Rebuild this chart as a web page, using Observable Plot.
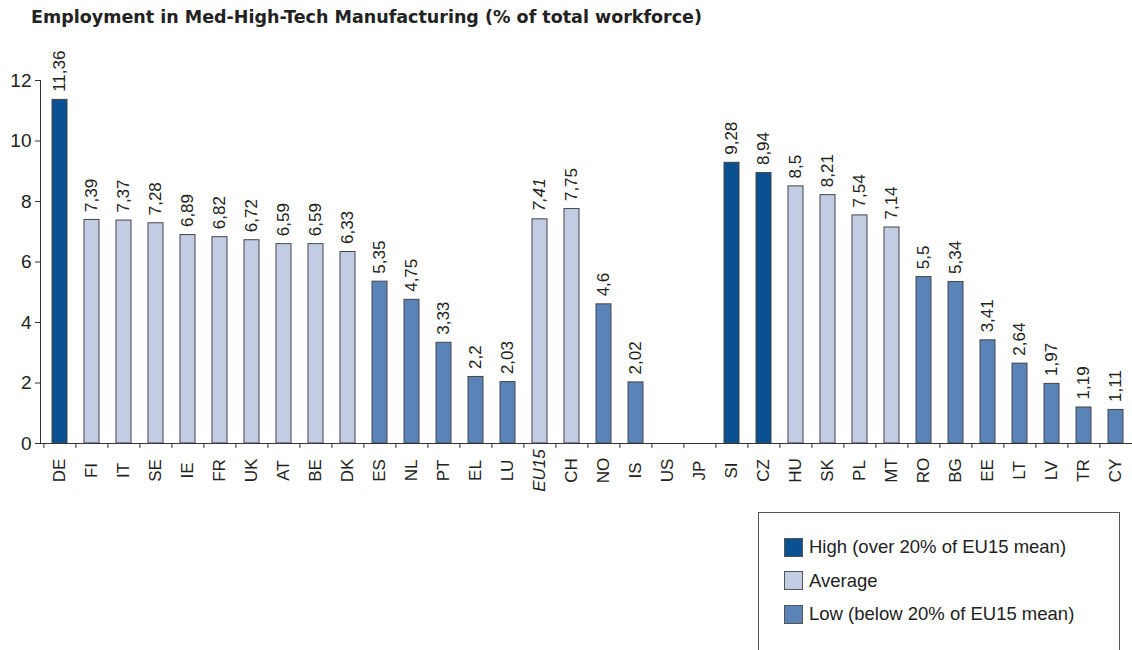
<!DOCTYPE html>
<html><head><meta charset="utf-8">
<script src="https://cdn.jsdelivr.net/npm/d3@7"></script>
<script src="https://cdn.jsdelivr.net/npm/@observablehq/plot@0.6"></script>
<style>
body{margin:0;background:#fff;}
#wrap{position:relative;width:1132px;height:650px;overflow:hidden;font-family:"Liberation Sans",Arial,sans-serif;}
#title{position:absolute;left:31px;top:7px;font-family:"DejaVu Sans",Verdana,sans-serif;font-weight:bold;font-size:17.5px;color:#222;white-space:nowrap;}
#chart{position:absolute;left:0;top:0;}
#legend{position:absolute;left:758px;top:512px;width:362px;height:170px;border:1px solid #555;box-sizing:border-box;background:#fff;}
.row{position:absolute;left:25px;display:flex;align-items:center;font-size:18.5px;color:#222;}
.sw{width:19px;height:19px;border:1px solid #555;margin-right:6px;box-sizing:border-box;}
</style></head>
<body><div id="wrap">
<div id="chart"></div>
<div id="title">Employment in Med-High-Tech Manufacturing (% of total workforce)</div>
<div id="legend"></div>
</div>
<script>
const countries = ["DE","FI","IT","SE","IE","FR","UK","AT","BE","DK","ES","NL","PT","EL","LU","EU15","CH","NO","IS","US","JP","SI","CZ","HU","SK","PL","MT","RO","BG","EE","LT","LV","TR","CY"];
const values = [11.36,7.39,7.37,7.28,6.89,6.82,6.72,6.59,6.59,6.33,5.35,4.75,3.33,2.2,2.03,7.41,7.75,4.6,2.02,null,null,9.28,8.94,8.5,8.21,7.54,7.14,5.5,5.34,3.41,2.64,1.97,1.19,1.11];
const levels = ["High","Average","Average","Average","Average","Average","Average","Average","Average","Average","Low","Low","Low","Low","Low","Average","Average","Low","Low",null,null,"High","High","Average","Average","Average","Average","Low","Low","Low","Low","Low","Low","Low"];
const levelNames = ["High","Average","Low"];
const levelColors = ["#0a5191","#c2cde4","#5a83b8"];
const legendLabels = ["High (over 20% of EU15 mean)","Average","Low (below 20% of EU15 mean)"];
const yTicks = [0,2,4,6,8,10,12];

const data = countries.map((c,i)=>({country:c, value:values[i], level:levels[i]}));
const bars = data.filter(d=>d.value!=null);
const fmt = v => String(v).replace(".",",");

const plot = Plot.plot({
  width: 1132, height: 650,
  marginTop: 80, marginBottom: 207, marginLeft: 40, marginRight: 0,
  style: {fontFamily: '"Liberation Sans", Arial, sans-serif', color: "#222"},
  x: {domain: countries, range: [40, 1135], paddingInner: 0.52, paddingOuter: 0.26, label: null},
  y: {domain: [0, 12], label: null},
  color: {domain: levelNames, range: levelColors},
  marks: [
    Plot.barY(bars, {x: "country", y: "value", fill: "level", stroke: "#444", strokeWidth: 1}),
    Plot.frame({anchor: "left", stroke: "#333"}),
    Plot.ruleY([0], {stroke: "#333"}),
    Plot.axisY({ticks: yTicks, tickSize: 5, tickPadding: 4, fontSize: 19, stroke: "#333", tickFormat: d=>d, label: null}),
    Plot.axisX({tickSize: 5, text: null, dx: -16.1, stroke: "#333", label: null}),
    Plot.text(countries.filter(c=>c!=="EU15"), {x: d=>d, y: ()=>0, text: d=>d, rotate: -90, textAnchor: "middle", lineAnchor: "middle", dy: 27, fontSize: 17, fill: "#222"}),
    Plot.text(countries.filter(c=>c==="EU15"), {x: d=>d, y: ()=>0, text: d=>d, rotate: -90, textAnchor: "middle", lineAnchor: "middle", dy: 27, fontSize: 17, fontStyle: "italic", fill: "#222"}),
    Plot.text(bars.filter(d=>d.country!=="EU15"), {x: "country", y: "value", text: d=>fmt(d.value), rotate: -90, textAnchor: "start", lineAnchor: "middle", dy: -8, fontSize: 17, fill: "#222"}),
    Plot.text(bars.filter(d=>d.country==="EU15"), {x: "country", y: "value", text: d=>fmt(d.value), rotate: -90, textAnchor: "start", lineAnchor: "middle", dy: -8, fontSize: 17, fontStyle: "italic", fill: "#222"})
  ]
});
document.getElementById("chart").appendChild(plot);

const leg = document.getElementById("legend");
levelNames.forEach((n,i)=>{
  const row = document.createElement("div");
  row.className = "row";
  row.style.top = (23 + i*33.5) + "px";
  const sw = document.createElement("div");
  sw.className = "sw"; sw.style.background = levelColors[i];
  const t = document.createElement("span");
  t.textContent = legendLabels[i];
  row.appendChild(sw); row.appendChild(t);
  leg.appendChild(row);
});
</script>
</body></html>
